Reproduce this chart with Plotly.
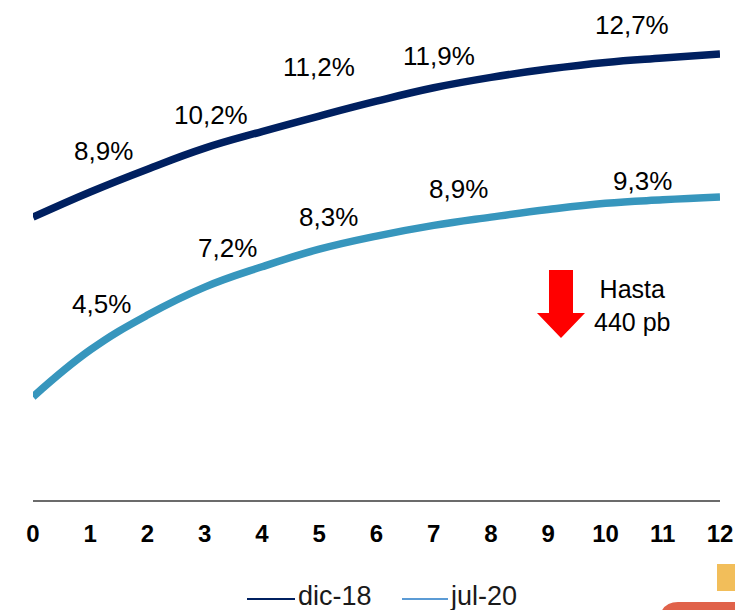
import plotly.graph_objects as go

# ---- data ----
maturity = list(range(0, 13))
dic18 = [8.20, 8.93, 9.59, 10.20, 10.68, 11.13, 11.56, 11.95, 12.25, 12.49, 12.68, 12.81, 12.93]
jul20 = [2.99, 4.35, 5.36, 6.17, 6.76, 7.27, 7.65, 7.96, 8.20, 8.42, 8.60, 8.70, 8.78]
dic18_labels = ["8,9%", "10,2%", "11,2%", "11,9%", "12,7%"]
jul20_labels = ["4,5%", "7,2%", "8,3%", "8,9%", "9,3%"]
tick_vals = list(range(0, 13))
tick_text = [str(v) for v in tick_vals]
series_names = ["dic-18", "jul-20"]
note_text = "Hasta<br>440 pb"

DARK = "#002060"
LIGHT = "#3796BD"
LEGEND_LIGHT = "#5B9BD5"
FONT = "Liberation Sans, Arial, sans-serif"

# ---- geometry (pixels of the 735x610 canvas) ----
W, H = 735, 610
PLOT_L, PLOT_R, PLOT_T, PLOT_B = 33, 720, 0, 500
L, R, T, B = PLOT_L, W - PLOT_R, PLOT_T, H - PLOT_B
PW, PH = PLOT_R - PLOT_L, PLOT_B - PLOT_T
PX_PER_UNIT = 34.5


def px(x):
    return (x - PLOT_L) / PW


def py(y):
    return (PLOT_B - y) / PH


fig = go.Figure()
fig.add_trace(go.Scatter(x=maturity, y=dic18, mode="lines", name=series_names[0],
                         line=dict(color=DARK, width=7.5, shape="spline", smoothing=1.2),
                         showlegend=False, hoverinfo="skip"))
fig.add_trace(go.Scatter(x=maturity, y=jul20, mode="lines", name=series_names[1],
                         line=dict(color=LIGHT, width=7.5, shape="spline", smoothing=1.2),
                         showlegend=False, hoverinfo="skip"))

# label positions (layout only)
dark_lab_x = [1.24, 3.11, 4.99, 7.09, 10.46]
dark_lab_y = [10.12, 11.16, 12.55, 12.87, 13.77]
light_lab_x = [1.19, 3.39, 5.17, 7.44, 10.65]
light_lab_y = [5.68, 7.30, 8.20, 9.01, 9.25]

annotations = []
for xs, ys, texts in [(dark_lab_x, dark_lab_y, dic18_labels), (light_lab_x, light_lab_y, jul20_labels)]:
    for x, y, t in zip(xs, ys, texts):
        annotations.append(dict(x=x, y=y, xref="x", yref="y", text=t, showarrow=False,
                                xanchor="center", yanchor="middle",
                                font=dict(family=FONT, size=26, color="#000000")))
annotations.append(dict(x=px(632), y=py(305), xref="paper", yref="paper", text=note_text,
                        showarrow=False, xanchor="center", yanchor="middle", align="center",
                        font=dict(family=FONT, size=25, color="#000000")))

# legend (drawn as short lines + text)
legend_items = [(series_names[0], DARK, 247, 295, 296), (series_names[1], LEGEND_LIGHT, 402, 448, 448)]
LEG_Y = 596
shapes = []
for name, col, x0, x1, tx in legend_items:
    shapes.append(dict(type="line", xref="paper", yref="paper", x0=px(x0), x1=px(x1),
                       y0=py(599), y1=py(599), line=dict(color=col, width=2)))
    annotations.append(dict(x=px(tx), y=py(LEG_Y), xref="paper", yref="paper", text=name,
                            showarrow=False, xanchor="left", yanchor="middle",
                            font=dict(family=FONT, size=27, color="#1a1a1a")))

arrow_pts = [(549, 270), (573, 270), (573, 313), (585, 313), (561, 338), (537, 313), (549, 313)]
arrow_path = "M " + " L ".join(f"{px(a):.5f},{py(b):.5f}" for a, b in arrow_pts) + " Z"

shapes += [
    dict(type="path", xref="paper", yref="paper", path=arrow_path,
         fillcolor="#FF0000", line=dict(width=0)),
    dict(type="rect", xref="paper", yref="paper", x0=px(717), x1=px(740), y0=py(564), y1=py(591),
         fillcolor="#F2BE5A", line=dict(width=0), layer="above"),
    dict(type="path", xref="paper", yref="paper",
         path=(f"M {px(678):.5f},{py(602):.5f} L {px(740):.5f},{py(602):.5f} "
               f"L {px(740):.5f},{py(615):.5f} L {px(660):.5f},{py(615):.5f} "
               f"Q {px(664):.5f},{py(602):.5f} {px(678):.5f},{py(602):.5f} Z"),
         fillcolor="#E0624A", line=dict(width=0)),
]

fig.update_layout(
    width=W, height=H,
    margin=dict(l=L, r=R, t=T, b=B, pad=0, autoexpand=False),
    paper_bgcolor="white", plot_bgcolor="white",
    font=dict(family=FONT, color="#000000"),
    xaxis=dict(range=[0, 12], tickvals=tick_vals, ticktext=tick_text, automargin=False,
               showgrid=False, zeroline=False, showline=True, linecolor="#6b6b6b", linewidth=1.5,
               ticks="outside", ticklen=11, tickcolor="rgba(0,0,0,0)",
               tickfont=dict(family=FONT, size=24, color="#000000", weight="bold"),
               fixedrange=True),
    yaxis=dict(range=[0, PH / PX_PER_UNIT], visible=False, showgrid=False, zeroline=False,
               fixedrange=True),
    showlegend=False,
    hovermode=False,
    annotations=annotations,
    shapes=shapes,
)

fig.write_html("out.html", config={"displayModeBar": False},
               post_script="document.body.style.margin='0px';")
